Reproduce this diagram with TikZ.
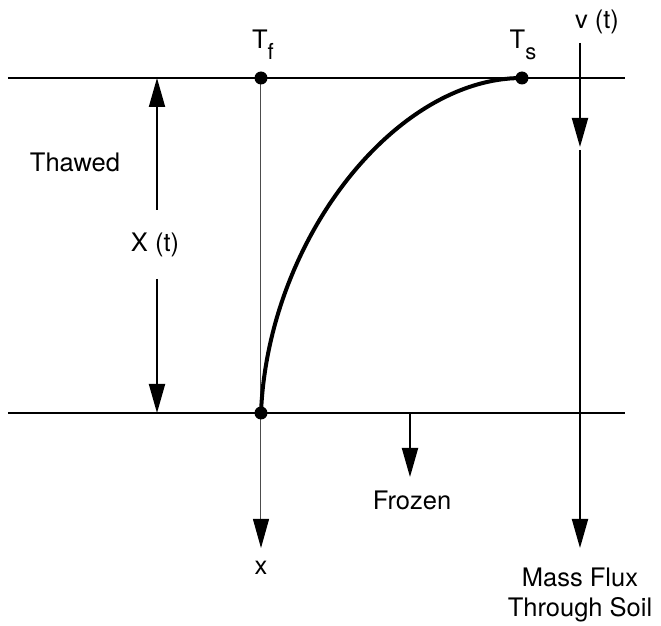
\documentclass[tikz,border=0pt]{standalone}
\usepackage{fontspec}
\setmainfont{TeX Gyre Heros}
\usepackage{tikz}
\usetikzlibrary{arrows.meta, positioning}

\newcommand{\lowsub}[1]{{\fontsize{11}{11}\selectfont\raisebox{-5.5pt}{#1}}}

\tikzset{
  flux/.style={line width=1pt, -{Triangle[length=14.5pt,width=8pt]}},
  axis/.style={line width=0.5pt, black!70, -{Triangle[length=14.5pt,width=8pt,color=black]}},
  lbl/.style={font=\fontsize{12.75}{15}\selectfont, inner sep=0pt}
}

\begin{document}
\begin{tikzpicture}[x=0.5pt, y=-0.5pt]
  \useasboundingbox (0,0) rectangle (661,626);

  % points
  \coordinate (tf) at (261,78);
  \coordinate (ts) at (522,78);
  \coordinate (x0) at (261,413);
  \coordinate (xend) at (261,548);

  % lines
  \draw[line width=1pt] (8,78) -- (625,78);
  \draw[line width=1pt] (8,413) -- (625,413);
  \draw[axis] (tf) -- (xend);
  \draw[line width=2pt] (x0) .. controls (268,240) and (395,78) .. (ts);

  \foreach \p in {tf,ts,x0} {
    \fill (\p) circle (6.5);
  }

  % arrows
  \draw[flux] (157,210) -- (157,78);
  \draw[flux] (157,279) -- (157,413);
  \draw[flux] (410,413) -- (410,477);
  \draw[flux] (580,43) -- (580,147);
  \draw[flux] (580,150) -- (580,548);

  % labels
  \node[lbl] (tflbl) at (263,45) {T\lowsub{f}};
  \node[lbl] (tslbl) at (523,45) {T\lowsub{s}};
  \node[lbl] (vt) at (597,22) {v (t)};
  \node[lbl] (thawed) at (75,162) {Thawed};
  \node[lbl] (xt) at (155,245) {X (t)};
  \node[lbl] (frozen) at (412,500) {Frozen};
  \node[lbl] (xlbl) at (261,568) {x};
  \node[lbl, align=center] (flux) at (580,595) {Mass Flux\\Through Soil};
\end{tikzpicture}
\end{document}
